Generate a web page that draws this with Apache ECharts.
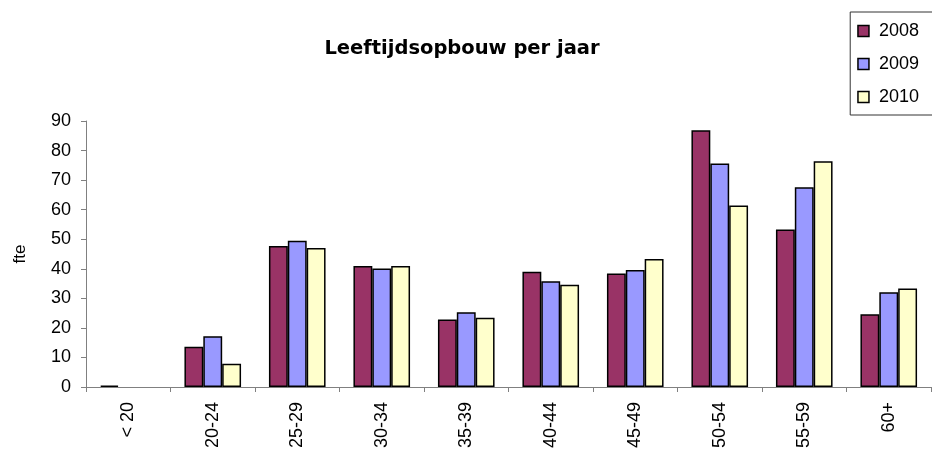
<!DOCTYPE html>
<html>
<head>
<meta charset="utf-8">
<script src="https://cdn.jsdelivr.net/npm/echarts@6/dist/echarts.min.js"></script>
<style>
  html, body { margin: 0; padding: 0; background: #fff; }
  #chart { width: 932px; height: 455px; }
</style>
</head>
<body>
<div id="chart"></div>
<script>
// leeftijdscategorieën
var categories = ['< 20', '20-24', '25-29', '30-34', '35-39', '40-44', '45-49', '50-54', '55-59', '60+'];
var data2008 = [0.5, 13.6, 47.7, 40.9, 22.8, 39.0, 38.4, 86.9, 53.3, 24.6];
var data2009 = [null, 17.2, 49.5, 40.1, 25.3, 35.8, 39.6, 75.6, 67.6, 32.1];
var data2010 = [null, 7.9, 47.0, 40.9, 23.4, 34.6, 43.3, 61.4, 76.4, 33.3];
var years = ['2008', '2009', '2010'];
var colors = ['#993366', '#9999FF', '#FFFFCC'];

var font = 'Liberation Sans, Arial, sans-serif';
var chart = echarts.init(document.getElementById('chart'));

function makeSeries(name, data, color) {
    return {
        name: name,
        type: 'bar',
        data: data,
        barGap: '0%',
        barCategoryGap: '33%',
        itemStyle: { color: color, borderColor: '#000', borderWidth: 1.5 }
    };
}

chart.setOption({
    animation: false,
    title: {
        text: 'Leeftijdsopbouw per jaar',
        left: 457,
        textAlign: 'center',
        top: 34,
        textStyle: { fontFamily: 'DejaVu Sans', fontSize: 19.5, fontWeight: 'bold', color: '#000' }
    },
    legend: {
        orient: 'vertical',
        right: -12,
        top: 12,
        padding: [10, 25, 9, 7],
        itemGap: 15,
        itemWidth: 11,
        itemHeight: 11,
        borderColor: '#333',
        borderWidth: 1,
        icon: 'rect',
        itemStyle: { borderColor: '#000', borderWidth: 1.5 },
        textStyle: { fontFamily: font, fontSize: 18, color: '#000', padding: [0, 0, 0, 5] },
        data: years
    },
    grid: { left: 86, right: 1, top: 121, bottom: 68 },
    xAxis: {
        type: 'category',
        data: categories,
        axisLine: { lineStyle: { color: '#808080', width: 1 } },
        axisTick: { show: true, length: 5, lineStyle: { color: '#808080' } },
        axisLabel: { rotate: 90, fontFamily: font, fontSize: 18, color: '#000', margin: 15 }
    },
    yAxis: {
        type: 'value',
        min: 0,
        max: 90,
        interval: 10,
        name: 'fte',
        nameLocation: 'middle',
        nameGap: 57,
        nameTextStyle: { fontFamily: font, fontSize: 17, color: '#000' },
        axisLine: { show: true, lineStyle: { color: '#808080' } },
        axisTick: { show: true, length: 5, lineStyle: { color: '#808080' } },
        splitLine: { show: false },
        axisLabel: { fontFamily: font, fontSize: 18, color: '#000', margin: 15 }
    },
    series: [
        makeSeries(years[0], data2008, colors[0]),
        makeSeries(years[1], data2009, colors[1]),
        makeSeries(years[2], data2010, colors[2])
    ]
});
</script>
</body>
</html>
